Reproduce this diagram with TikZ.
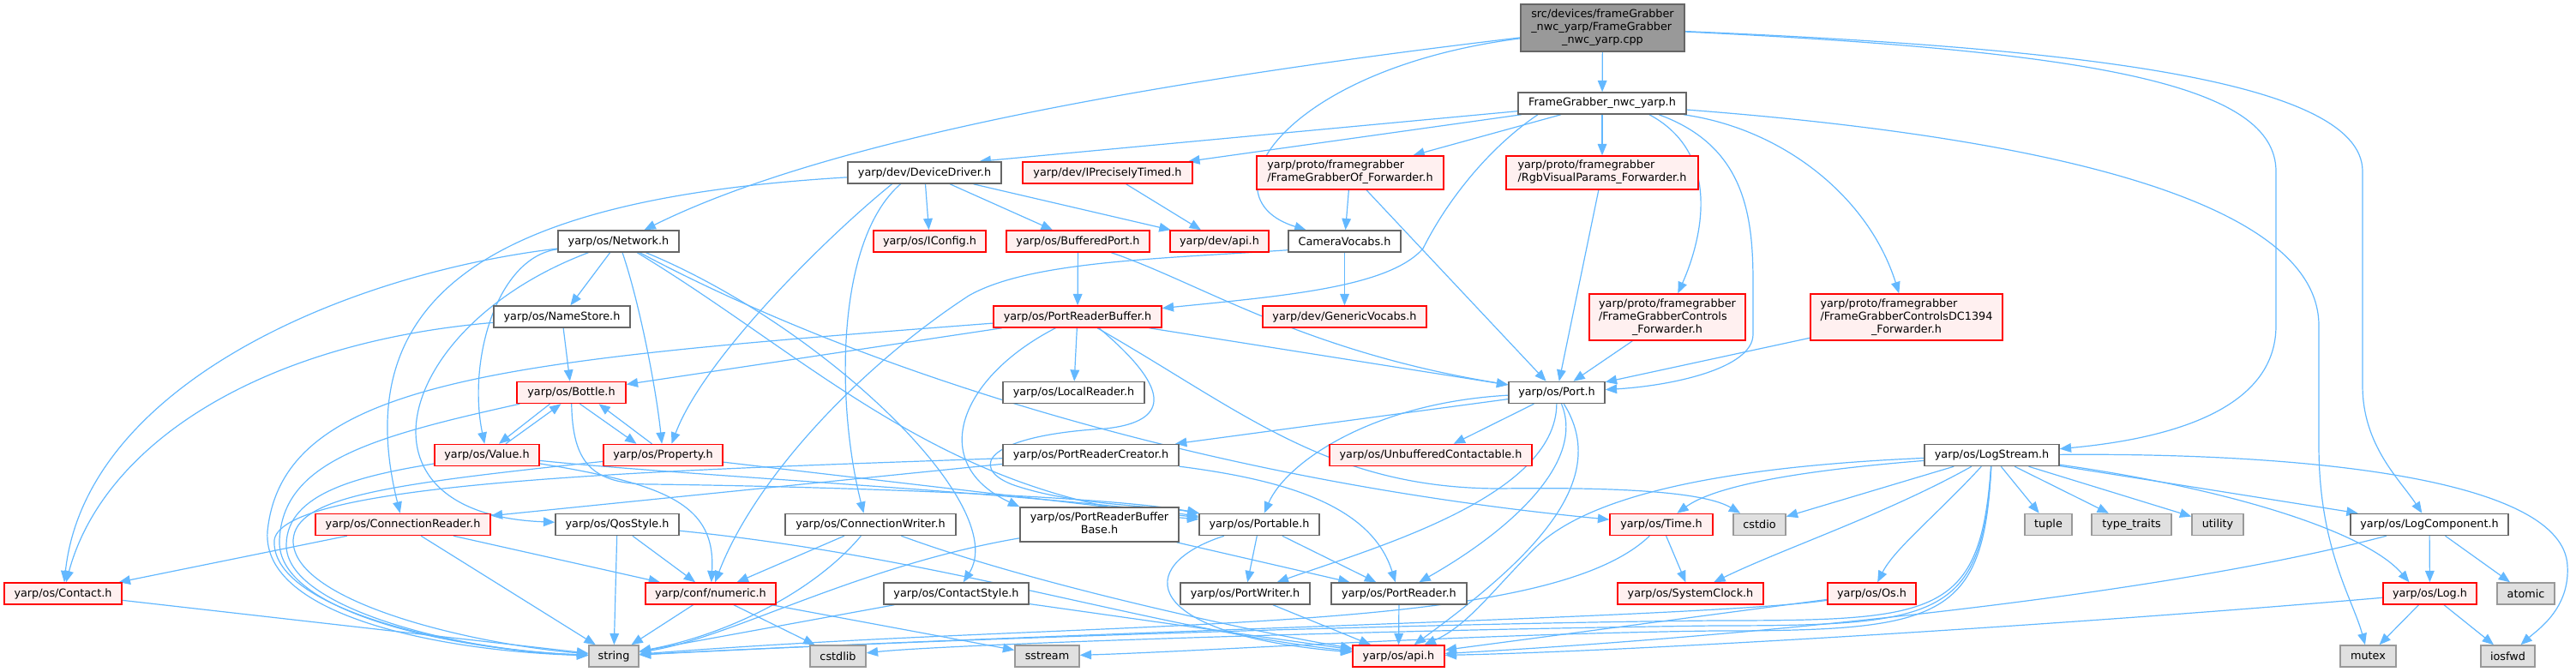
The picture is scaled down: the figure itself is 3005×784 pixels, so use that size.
\documentclass[tikz,border=0pt]{standalone}
\usepackage{fontspec}
\setmainfont{DejaVu Sans}
\usetikzlibrary{arrows.meta,calc,backgrounds}

\definecolor{depblue}{HTML}{63B8FF}
\definecolor{nodeedge}{HTML}{666666}
\definecolor{truncfill}{HTML}{FFF0F0}
\definecolor{sysfill}{HTML}{E0E0E0}
\definecolor{sysedge}{HTML}{999999}
\definecolor{rootfill}{HTML}{999999}

\tikzset{
  hdr/.style={draw=nodeedge, fill=white, line width=1.1pt, inner xsep=2pt, inner ysep=0pt,
    minimum height=18.75pt, font=\fontsize{9.6pt}{11.25pt}\selectfont},
  trunc/.style={hdr, draw=red, fill=truncfill},
  sys/.style={hdr, draw=sysedge, fill=sysfill},
  bw/.style={minimum width={#1*0.75pt}},
  bh/.style={minimum height={#1*0.75pt}},
  dep/.style={draw=depblue, line width=0.9pt, -{Triangle[length=10pt,width=8pt]}},
}

\begin{document}
\begin{tikzpicture}[x=0.75pt, y=-0.75pt]
  \useasboundingbox (0,0) rectangle (3005,784);

  % source file and its header
  \node[hdr, fill=rootfill, bw=191, bh=55] (root) at (1869.5,32.5)
    {\begin{tabular}{@{}l@{}}src/devices/frameGrabber\\\_nwc\_yarp/FrameGrabber\\\multicolumn{1}{@{}c@{}}{\_nwc\_yarp.cpp}\end{tabular}};
  \node[hdr, bw=196] (fgh) at (1869,120.5) {FrameGrabber\_nwc\_yarp.h};

  % row 2
  \node[hdr, bw=179] (devdrv) at (1078.5,201.5) {yarp/dev/DeviceDriver.h};
  \node[trunc, bw=198] (iprec) at (1292,201.5) {yarp/dev/IPreciselyTimed.h};
  \node[trunc, bw=218, bh=39] (fgof) at (1575,201.5)
    {\begin{tabular}{@{}l@{}}yarp/proto/framegrabber\\/FrameGrabberOf\_Forwarder.h\end{tabular}};
  \node[trunc, bw=224, bh=39] (rgbvp) at (1869,201.5)
    {\begin{tabular}{@{}l@{}}yarp/proto/framegrabber\\/RgbVisualParams\_Forwarder.h\end{tabular}};

  % row 3
  \node[hdr, bw=141] (network) at (721.5,281.5) {yarp/os/Network.h};
  \node[trunc, bw=131] (iconfig) at (1084.5,281.5) {yarp/os/IConfig.h};
  \node[trunc, bw=167] (bufport) at (1257.5,281.5) {yarp/os/BufferedPort.h};
  \node[trunc, bw=115] (devapi) at (1422.5,281.5) {yarp/dev/api.h};
  \node[hdr, bw=131] (camvoc) at (1568.5,281.5) {CameraVocabs.h};

  % row 4
  \node[hdr, bw=159] (namestore) at (655.5,369.5) {yarp/os/NameStore.h};
  \node[trunc, bw=196] (prb) at (1257,369.5) {yarp/os/PortReaderBuffer.h};
  \node[trunc, bw=191] (genvoc) at (1568.5,369.5) {yarp/dev/GenericVocabs.h};
  \node[trunc, bw=182, bh=54] (fgc) at (1945,370)
    {\begin{tabular}{@{}l@{}}yarp/proto/framegrabber\\/FrameGrabberControls\\\multicolumn{1}{@{}c@{}}{\_Forwarder.h}\end{tabular}};
  \node[trunc, bw=224, bh=54] (fgcdc) at (2224,370)
    {\begin{tabular}{@{}l@{}}yarp/proto/framegrabber\\/FrameGrabberControlsDC1394\\\multicolumn{1}{@{}c@{}}{\_Forwarder.h}\end{tabular}};

  % row 5
  \node[trunc, bw=127] (bottle) at (666.5,458) {yarp/os/Bottle.h};
  \node[hdr, bw=165] (localreader) at (1252.5,458) {yarp/os/LocalReader.h};
  \node[hdr, bw=112] (port) at (1816,458) {yarp/os/Port.h};

  % row 6
  \node[trunc, bw=122] (value) at (568,531) {yarp/os/Value.h};
  \node[trunc, bw=139] (property) at (773.5,531) {yarp/os/Property.h};
  \node[hdr, bw=205] (prc) at (1272.5,531) {yarp/os/PortReaderCreator.h};
  \node[trunc, bw=236] (unbuf) at (1669,531) {yarp/os/UnbufferedContactable.h};
  \node[hdr, bw=157] (logstream) at (2323.5,531) {yarp/os/LogStream.h};

  % row 7
  \node[trunc, bw=204] (connreader) at (470,612) {yarp/os/ConnectionReader.h};
  \node[hdr, bw=144] (qos) at (720,612) {yarp/os/QosStyle.h};
  \node[hdr, bw=199] (connwriter) at (1015.5,612) {yarp/os/ConnectionWriter.h};
  \node[hdr, bw=185, bh=40] (prbb) at (1282.5,612)
    {\begin{tabular}{@{}l@{}}yarp/os/PortReaderBuffer\\\multicolumn{1}{@{}c@{}}{Base.h}\end{tabular}};
  \node[hdr, bw=140] (portable) at (1469,612) {yarp/os/Portable.h};
  \node[trunc, bw=120] (time) at (1938,612) {yarp/os/Time.h};
  \node[sys, bw=61] (cstdio) at (2052.5,612) {cstdio};
  \node[sys, bw=55] (tuple) at (2389.5,612) {tuple};
  \node[sys, bw=93] (typetraits) at (2486.5,612) {type\_traits};
  \node[sys, bw=60] (utility) at (2587,612) {utility};
  \node[hdr, bw=184] (logcomp) at (2834,612) {yarp/os/LogComponent.h};

  % row 8
  \node[trunc, bw=137] (contact) at (73.5,692.5) {yarp/os/Contact.h};
  \node[trunc, bw=152] (numeric) at (829,692.5) {yarp/conf/numeric.h};
  \node[hdr, bw=169] (contactstyle) at (1115.5,692.5) {yarp/os/ContactStyle.h};
  \node[hdr, bw=151] (portwriter) at (1452.5,692.5) {yarp/os/PortWriter.h};
  \node[hdr, bw=158] (portreader) at (1632,692.5) {yarp/os/PortReader.h};
  \node[trunc, bw=170] (sysclock) at (1972,692.5) {yarp/os/SystemClock.h};
  \node[trunc, bw=103] (os) at (2183.5,692.5) {yarp/os/Os.h};
  \node[trunc, bw=109] (log) at (2834.5,692.5) {yarp/os/Log.h};
  \node[sys, bw=67] (atomic) at (2946.5,692.5) {atomic};

  % bottom row
  \node[sys, bw=58] (string) at (716,765.5) {string};
  \node[sys, bw=65] (cstdlib) at (977.5,765.5) {cstdlib};
  \node[sys, bw=75] (sstream) at (1221.5,765.5) {sstream};
  \node[trunc, bw=107] (osapi) at (1631.5,765.5) {yarp/os/api.h};
  \node[sys, bw=65] (mutex) at (2762.5,765.5) {mutex};
  \node[sys, bw=63] (iosfwd) at (2925.5,765.5) {iosfwd};

  \begin{scope}[on background layer]
  % straight includes
  \foreach \a/\b in {root/fgh, fgh/iprec, fgh/fgof, fgh/rgbvp,
      devdrv/iconfig, devdrv/bufport, devdrv/devapi, iprec/devapi,
      fgof/camvoc, camvoc/genvoc, bufport/prb, network/namestore, namestore/bottle,
      prb/localreader, prb/port, prb/bottle, fgof/port, rgbvp/port, fgc/port, fgcdc/port,
      port/unbuf, port/prc, prc/connreader, property/portable,
      connreader/contact, connreader/numeric, connreader/string, qos/numeric, qos/string,
      connwriter/numeric, contact/string, numeric/string, numeric/cstdlib, numeric/sstream,
      contactstyle/string, contactstyle/osapi, prbb/portreader,
      portable/portwriter, portable/portreader, portwriter/osapi, portreader/osapi,
      time/sysclock, os/osapi, logstream/cstdio, logstream/tuple, logstream/typetraits,
      logstream/utility, logstream/logcomp, logcomp/log, logcomp/atomic, log/mutex, log/iosfwd}
    \draw[dep] (\a) -- (\b);

  % from the source file
  \draw[dep] (root) .. controls (1300,100) and (950,170) .. ($(network.north)+(30,0)$);
  \draw[dep] (root) .. controls (1500,80) and (1400,230) .. ($(camvoc.north)+(-45,0)$);
  \draw[dep] (root) .. controls (2450,60) and (2655,100) .. (2655,200) -- (2655,380)
    .. controls (2655,470) and (2550,510) .. (logstream);
  \draw[dep] (root) .. controls (2400,55) and (2756,90) .. (2756,200) -- (2756,450)
    .. controls (2756,520) and (2800,560) .. (logcomp);

  % from FrameGrabber_nwc_yarp.h
  \draw[dep] (fgh) -- ($(devdrv.north)+(64,0)$);
  \draw[dep] ($(fgh.south)+(-75,0)$) .. controls (1740,170) and (1690,230) .. (1660,290)
    .. controls (1620,335) and (1500,345) .. (prb);
  \draw[dep] ($(fgh.south)+(55,0)$) .. controls (2010,180) and (1985,280) .. (fgc);
  \draw[dep] (fgh) .. controls (2080,150) and (2180,230) .. (fgcdc);
  \draw[dep] ($(fgh.south)+(66,0)$) .. controls (2035,170) and (2045,250) .. (2045,330) -- (2045,390)
    .. controls (2045,430) and (1950,450) .. (port);
  \draw[dep] (fgh) .. controls (2450,165) and (2705,250) .. (2705,380) -- (2705,520)
    .. controls (2705,640) and (2745,700) .. (mutex);

  % DeviceDriver, CameraVocabs, BufferedPort
  \draw[dep] ($(devdrv.south)+(-38,0)$) .. controls (960,280) and (820,420) .. ($(property.north)+(10,0)$);
  \draw[dep] ($(devdrv.south)+(-28,0)$) .. controls (975,280) and (975,470) .. ($(connwriter.north)+(-8,0)$);
  \draw[dep] (devdrv) .. controls (600,230) and (400,330) .. (connreader);
  \draw[dep] ($(camvoc.south west)+(0,-3)$) .. controls (1350,302) and (1200,305) .. (1130,345)
    .. controls (1000,430) and (880,560) .. (numeric);
  \draw[dep] (bufport) .. controls (1400,330) and (1520,410) .. (port);

  % Network and NameStore
  \draw[dep] (network) .. controls (580,300) and (545,420) .. (value);
  \draw[dep] (network) .. controls (400,320) and (100,450) .. (contact);
  \draw[dep] (network) .. controls (460,380) and (400,600) .. (qos);
  \draw[dep] (network) .. controls (745,350) and (765,450) .. (property);
  \draw[dep] (network) .. controls (960,380) and (1180,590) .. (contactstyle);
  \draw[dep] (network) .. controls (950,420) and (1100,580) .. (portable);
  \draw[dep] (network) .. controls (1000,430) and (1400,560) .. (time);
  \draw[dep] (namestore) .. controls (300,400) and (120,520) .. (contact);

  % Bottle, Value, Property
  \draw[dep] ($(bottle.south)+(-25,0)$) -- ($(value.north)+(14,0)$);
  \draw[dep] ($(value.north)+(22,0)$) -- ($(bottle.south)+(-12,0)$);
  \draw[dep] ($(bottle.south)+(10,0)$) -- ($(property.north)+(-31,0)$);
  \draw[dep] ($(property.north)+(-13,0)$) -- ($(bottle.south)+(32,0)$);
  \draw[dep] (bottle) .. controls (430,510) and (330,540) .. (326,630)
    .. controls (322,715) and (530,758) .. (string);
  \draw[dep] (bottle) .. controls (668,540) and (690,565) .. (760,565)
    .. controls (1000,568) and (1300,580) .. (portable);
  \draw[dep] (value) .. controls (420,555) and (335,575) .. (334,635)
    .. controls (332,710) and (540,760) .. (string);
  \draw[dep] (value) .. controls (780,565) and (835,590) .. (numeric);
  \draw[dep] (value) .. controls (800,555) and (1200,575) .. (portable);
  \draw[dep] (property) .. controls (450,565) and (345,580) .. (342,630)
    .. controls (340,700) and (540,750) .. (string);

  % PortReaderBuffer and friends
  \draw[dep] (prb) .. controls (600,420) and (330,440) .. (312,620)
    .. controls (305,720) and (520,760) .. (string);
  \draw[dep] (prb) .. controls (1120,440) and (1080,540) .. (prbb.north west);
  \draw[dep] ($(prb.south)+(25,0)$) .. controls (1350,440) and (1380,490) .. (1290,500)
    .. controls (1150,508) and (1130,545) .. (1180,565)
    .. controls (1250,590) and (1350,590) .. (portable);
  \draw[dep] (prb) .. controls (1450,480) and (1550,570) .. (1750,570)
    .. controls (1900,568) and (1990,575) .. (cstdio);
  \draw[dep] (prc) .. controls (800,548) and (330,560) .. (320,630)
    .. controls (315,710) and (530,758) .. (string);
  \draw[dep] (prc) .. controls (1500,560) and (1600,590) .. (portreader);
  \draw[dep] (connwriter) .. controls (950,690) and (850,740) .. (string);
  \draw[dep] (connwriter) .. controls (1200,680) and (1450,735) .. (osapi);
  \draw[dep] (qos) .. controls (1100,650) and (1350,735) .. (osapi);
  \draw[dep] (prbb) .. controls (1000,660) and (850,745) .. (string);
  \draw[dep] (portable) .. controls (1320,660) and (1330,740) .. (osapi);

  % Port
  \draw[dep] (port) .. controls (1600,470) and (1500,540) .. (portable);
  \draw[dep] (port) .. controls (1815,580) and (1600,640) .. (portwriter);
  \draw[dep] (port) .. controls (1850,540) and (1760,620) .. (portreader);
  \draw[dep] (port) .. controls (1880,560) and (1790,650) .. (osapi);

  % Time, Os
  \draw[dep] (time) .. controls (1800,745) and (1300,720) .. (string);
  \draw[dep] (os) .. controls (2000,720) and (1300,735) .. (string);

  % LogStream, LogComponent, Log
  \draw[dep] (logstream) .. controls (2150,545) and (2010,560) .. (time);
  \draw[dep] (logstream) .. controls (2200,600) and (2080,640) .. (sysclock);
  \draw[dep] (logstream) .. controls (2260,600) and (2210,640) .. (os);
  \draw[dep] (logstream) .. controls (2000,545) and (1850,580) .. (1790,640)
    .. controls (1740,690) and (1712,730) .. (osapi);
  \draw[dep] (logstream) .. controls (2310,720) and (2260,724) .. (2000,724)
    .. controls (1600,728) and (1000,750) .. (string);
  \draw[dep] (logstream) .. controls (2312,722) and (2262,730) .. (2000,730)
    .. controls (1600,735) and (1100,752) .. (cstdlib);
  \draw[dep] (logstream) .. controls (2314,724) and (2264,736) .. (2000,736)
    .. controls (1700,740) and (1400,760) .. (sstream);
  \draw[dep] (logstream) .. controls (2600,570) and (2760,620) .. ($(log.north)+(-24,0)$);
  \draw[dep] (logstream) .. controls (2700,528) and (2990,560) .. (2995,660)
    .. controls (2998,710) and (2960,735) .. (iosfwd);
  \draw[dep] (logcomp) .. controls (2500,700) and (2000,745) .. (osapi);
  \draw[dep] (log) .. controls (2400,730) and (1900,760) .. (osapi);
  \end{scope}
\end{tikzpicture}
\end{document}
